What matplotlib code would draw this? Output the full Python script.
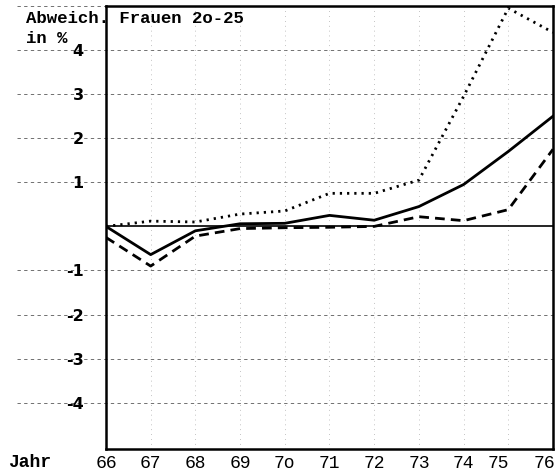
import matplotlib
matplotlib.use("Agg")
import matplotlib.pyplot as plt
from matplotlib.transforms import ScaledTranslation

# years 1966-1976 and deviation in % (women 20-25)
years = [66, 67, 68, 69, 70, 71, 72, 73, 74, 75, 76]
year_labels = ["66", "67", "68", "69", "7o", "71", "72", "73", "74", "75", "76"]
solid_vals = [0.0, -0.64, -0.1, 0.06, 0.07, 0.25, 0.14, 0.45, 0.95, 1.7, 2.5]
dotted_vals = [0.0, 0.12, 0.1, 0.28, 0.35, 0.75, 0.75, 1.05, 2.95, 4.95, 4.4]
dashed_vals = [-0.25, -0.9, -0.22, -0.05, -0.03, -0.02, 0.0, 0.22, 0.13, 0.38, 1.75]
y_ticks = [4, 3, 2, 1, -1, -2, -3, -4]

mono = "Liberation Mono"

fig = plt.figure(figsize=(5.56, 4.76), dpi=100)
ax = fig.add_axes([0.1906, 0.0567, 0.804, 0.9307])

# horizontal grid, running out to the left past the axis
for y in y_ticks + [5]:
    ax.axhline(y, xmin=-0.2, xmax=1.0, color="0.35", lw=0.6,
               ls=(0, (4, 4)), clip_on=False, zorder=1)
for x in years[1:-1]:
    ax.axvline(x, color="0.55", lw=0.5, ls=(0, (1, 6)), zorder=1)

ax.axhline(0, color="black", lw=1.2, zorder=2)

ax.plot(years, solid_vals, color="black", lw=2.0, zorder=3)
ax.plot(years, dotted_vals, color="black", lw=2.0, ls=(0, (0.8, 1.8)), zorder=3)
ax.plot(years, dashed_vals, color="black", lw=2.0, ls=(0, (3.5, 2.2)), zorder=3)

ax.set_xlim(66, 76)
ax.set_ylim(-5.05, 5.0)

ax.set_xticks(years)
ax.set_xticklabels(year_labels, fontfamily=mono, fontsize=13)
ax.set_yticks(y_ticks)
ax.set_yticklabels([str(v) if v > 0 else "-" + str(-v) for v in y_ticks],
                   fontfamily="DejaVu Sans", fontweight="bold", fontsize=11.5)
ax.tick_params(axis="both", length=0)
ax.tick_params(axis="y", pad=16)
ax.tick_params(axis="x", pad=4)

# the last two year labels sit a bit left of their gridlines
xlabels = ax.get_xticklabels()
xlabels[-2].set_transform(xlabels[-2].get_transform()
                          + ScaledTranslation(-10 / 100, 0, fig.dpi_scale_trans))
xlabels[-1].set_ha("right")
xlabels[-1].set_transform(xlabels[-1].get_transform()
                          + ScaledTranslation(2 / 100, 0, fig.dpi_scale_trans))

for side in ["left", "bottom", "right", "top"]:
    ax.spines[side].set_linewidth(1.8)

fig.text(0.047, 0.962, "Abweich. Frauen 2o-25", fontfamily=mono,
         fontweight="bold", fontsize=12.5, va="center", ha="left")
fig.text(0.047, 0.920, "in %", fontfamily=mono, fontweight="bold",
         fontsize=12.5, va="center", ha="left")
fig.text(0.014, 0.028, "Jahr", fontfamily=mono, fontweight="bold",
         fontsize=13, va="center", ha="left")

fig.savefig("out.png", dpi=100, facecolor="white")
